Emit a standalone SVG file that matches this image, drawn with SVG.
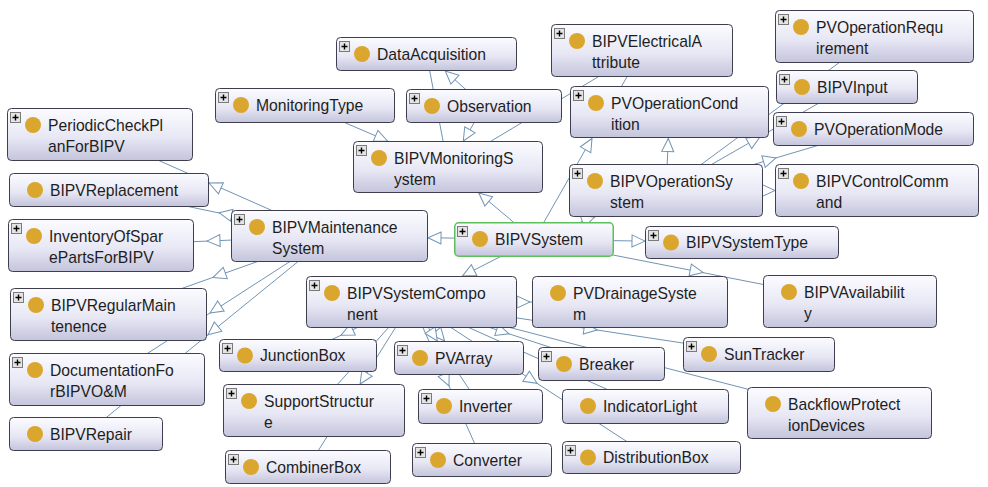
<svg xmlns="http://www.w3.org/2000/svg" width="988" height="487" viewBox="0 0 988 487">
<defs>
<linearGradient id="g" x1="0" y1="0" x2="0" y2="1">
<stop offset="0" stop-color="#fbfbff"/>
<stop offset="0.55" stop-color="#e8e8f5"/>
<stop offset="1" stop-color="#c4c4dc"/>
</linearGradient>
<path id="ah" d="M0,0 L-13,-6 L-13,6 Z"/>
<g id="plus"><rect x="0.5" y="0.5" width="10" height="10" fill="#e4e4e4" stroke="#7a7a7a"/><path d="M2.5,5.5 H8.5 M5.5,2.5 V8.5" stroke="#000" stroke-width="1.4"/></g>
</defs>
<style>
.n rect.b{fill:url(#g);stroke:#3e3e4e;stroke-width:1}
.n.focus rect.b{stroke:#5cbf5c;stroke-width:1.5}
.n circle{fill:#daa62e}
.n text{font-family:"Liberation Sans",Arial,sans-serif;font-size:15.7px;fill:#1e1e1e}
#edges line{stroke:#7194b4;stroke-width:1}
#edges use{fill:#fff;stroke:#7194b4;stroke-width:1}
</style>
<rect width="988" height="487" fill="#fff"/>
<g id="edges">
<line x1="534" y1="239.5" x2="329.5" y2="236"/>
<line x1="534" y1="239.5" x2="448" y2="167"/>
<line x1="534" y1="239.5" x2="742" y2="242.5"/>
<line x1="534" y1="239.5" x2="411.5" y2="302"/>
<line x1="534" y1="239.5" x2="666" y2="190.5"/>
<line x1="534" y1="239.5" x2="850" y2="301.5"/>
<line x1="534" y1="239.5" x2="642" y2="50.5"/>
<line x1="329.5" y1="236" x2="100" y2="134.5"/>
<line x1="329.5" y1="236" x2="109" y2="190"/>
<line x1="329.5" y1="236" x2="101" y2="245.5"/>
<line x1="329.5" y1="236" x2="108.5" y2="314.5"/>
<line x1="329.5" y1="236" x2="107" y2="379.5"/>
<line x1="329.5" y1="236" x2="86" y2="434"/>
<line x1="305" y1="105.5" x2="448" y2="167"/>
<line x1="426.5" y1="54" x2="448" y2="167"/>
<line x1="484" y1="106" x2="426.5" y2="54"/>
<line x1="484" y1="106" x2="448" y2="167"/>
<line x1="642" y1="50.5" x2="448" y2="167"/>
<line x1="666" y1="190.5" x2="669.5" y2="112"/>
<line x1="666" y1="190.5" x2="874.5" y2="36.5"/>
<line x1="666" y1="190.5" x2="847" y2="87"/>
<line x1="666" y1="190.5" x2="873.5" y2="129"/>
<line x1="666" y1="190.5" x2="877" y2="190.5"/>
<line x1="411.5" y1="302" x2="630" y2="302"/>
<line x1="411.5" y1="302" x2="298" y2="355.5"/>
<line x1="411.5" y1="302" x2="314" y2="410.5"/>
<line x1="411.5" y1="302" x2="308" y2="467"/>
<line x1="411.5" y1="302" x2="459" y2="358"/>
<line x1="411.5" y1="302" x2="480.5" y2="406.5"/>
<line x1="411.5" y1="302" x2="482" y2="460"/>
<line x1="411.5" y1="302" x2="601.5" y2="364"/>
<line x1="411.5" y1="302" x2="645.5" y2="406.5"/>
<line x1="411.5" y1="302" x2="651.5" y2="457.5"/>
<line x1="411.5" y1="302" x2="759" y2="354.5"/>
<line x1="411.5" y1="302" x2="839.5" y2="413"/>
<use href="#ah" transform="translate(428,237.7) rotate(181)"/>
<use href="#ah" transform="translate(478.8,193) rotate(220.1)"/>
<use href="#ah" transform="translate(645,241.1) rotate(0.8)"/>
<use href="#ah" transform="translate(462.5,276) rotate(153)"/>
<use href="#ah" transform="translate(594.6,217) rotate(-20.4)"/>
<use href="#ah" transform="translate(703,272.4) rotate(11)"/>
<use href="#ah" transform="translate(592,138.5) rotate(-60.3)"/>
<use href="#ah" transform="translate(209,183) rotate(203.9)"/>
<use href="#ah" transform="translate(219,212.7) rotate(191.8)"/>
<use href="#ah" transform="translate(207,241.1) rotate(177.6)"/>
<use href="#ah" transform="translate(213,277.4) rotate(160.4)"/>
<use href="#ah" transform="translate(210,313.1) rotate(147.2)"/>
<use href="#ah" transform="translate(208,334.8) rotate(140.9)"/>
<use href="#ah" transform="translate(387.5,141) rotate(23.3)"/>
<use href="#ah" transform="translate(445.3,71) rotate(222.1)"/>
<use href="#ah" transform="translate(463.3,141) rotate(120.5)"/>
<use href="#ah" transform="translate(668.3,138.5) rotate(-87.4)"/>
<use href="#ah" transform="translate(760,136.8) rotate(-29.8)"/>
<use href="#ah" transform="translate(776,157.9) rotate(-16.5)"/>
<use href="#ah" transform="translate(775,190.5) rotate(0)"/>
<use href="#ah" transform="translate(530,302) rotate(0)"/>
<use href="#ah" transform="translate(341,335.2) rotate(154.8)"/>
<use href="#ah" transform="translate(360.1,384) rotate(122.1)"/>
<use href="#ah" transform="translate(444.6,341) rotate(49.7)"/>
<use href="#ah" transform="translate(437.3,341) rotate(56.6)"/>
<use href="#ah" transform="translate(449,386) rotate(66)"/>
<use href="#ah" transform="translate(509,333.8) rotate(18.1)"/>
<use href="#ah" transform="translate(537,383.3) rotate(32.9)"/>
<use href="#ah" transform="translate(597,330) rotate(8.6)"/>
</g>
<g id="n-DataAcquisition" class="n" transform="translate(336,37)"><rect class="b" x="0.5" y="0.5" width="180" height="33" rx="4"/><use href="#plus" x="3" y="4"/><circle cx="26" cy="17" r="8"/><text x="41" y="22.5">DataAcquisition</text></g>
<g id="n-BIPVElectricalAttribute" class="n" transform="translate(551,24)"><rect class="b" x="0.5" y="0.5" width="181" height="52" rx="4"/><use href="#plus" x="3" y="4"/><circle cx="26" cy="17" r="8"/><text x="41" y="22.5">BIPVElectricalA<tspan x="41" y="44">ttribute</tspan></text></g>
<g id="n-PVOperationRequirement" class="n" transform="translate(775,10)"><rect class="b" x="0.5" y="0.5" width="198" height="52" rx="4"/><use href="#plus" x="3" y="4"/><circle cx="26" cy="17" r="8"/><text x="41" y="22.5">PVOperationRequ<tspan x="41" y="44">irement</tspan></text></g>
<g id="n-MonitoringType" class="n" transform="translate(215,88)"><rect class="b" x="0.5" y="0.5" width="179" height="34" rx="4"/><use href="#plus" x="3" y="4"/><circle cx="26" cy="17" r="8"/><text x="41" y="22.5">MonitoringType</text></g>
<g id="n-Observation" class="n" transform="translate(406,89)"><rect class="b" x="0.5" y="0.5" width="155" height="33" rx="4"/><use href="#plus" x="3" y="4"/><circle cx="26" cy="17" r="8"/><text x="41" y="22.5">Observation</text></g>
<g id="n-BIPVInput" class="n" transform="translate(776,70)"><rect class="b" x="0.5" y="0.5" width="141" height="33" rx="4"/><use href="#plus" x="3" y="4"/><circle cx="26" cy="17" r="8"/><text x="41" y="22.5">BIPVInput</text></g>
<g id="n-PVOperationCondition" class="n" transform="translate(570,86)"><rect class="b" x="0.5" y="0.5" width="198" height="51" rx="4"/><use href="#plus" x="3" y="4"/><circle cx="26" cy="17" r="8"/><text x="41" y="22.5">PVOperationCond<tspan x="41" y="44">ition</tspan></text></g>
<g id="n-PVOperationMode" class="n" transform="translate(773,112)"><rect class="b" x="0.5" y="0.5" width="200" height="33" rx="4"/><use href="#plus" x="3" y="4"/><circle cx="26" cy="17" r="8"/><text x="41" y="22.5">PVOperationMode</text></g>
<g id="n-PeriodicCheckPlanForBIPV" class="n" transform="translate(7,108)"><rect class="b" x="0.5" y="0.5" width="185" height="52" rx="4"/><use href="#plus" x="3" y="4"/><circle cx="26" cy="17" r="8"/><text x="41" y="22.5">PeriodicCheckPl<tspan x="41" y="44">anForBIPV</tspan></text></g>
<g id="n-BIPVMonitoringSystem" class="n" transform="translate(353,141)"><rect class="b" x="0.5" y="0.5" width="189" height="51" rx="4"/><use href="#plus" x="3" y="4"/><circle cx="26" cy="17" r="8"/><text x="41" y="22.5">BIPVMonitoringS<tspan x="41" y="44">ystem</tspan></text></g>
<g id="n-BIPVReplacement" class="n" transform="translate(9,173)"><rect class="b" x="0.5" y="0.5" width="199" height="33" rx="4"/><circle cx="26" cy="17" r="8"/><text x="41" y="22.5">BIPVReplacement</text></g>
<g id="n-BIPVOperationSystem" class="n" transform="translate(569,164)"><rect class="b" x="0.5" y="0.5" width="193" height="52" rx="4"/><use href="#plus" x="3" y="4"/><circle cx="26" cy="17" r="8"/><text x="41" y="22.5">BIPVOperationSy<tspan x="41" y="44">stem</tspan></text></g>
<g id="n-BIPVControlCommand" class="n" transform="translate(775,164)"><rect class="b" x="0.5" y="0.5" width="203" height="52" rx="4"/><use href="#plus" x="3" y="4"/><circle cx="26" cy="17" r="8"/><text x="41" y="22.5">BIPVControlComm<tspan x="41" y="44">and</tspan></text></g>
<g id="n-BIPVMaintenanceSystem" class="n" transform="translate(231,210)"><rect class="b" x="0.5" y="0.5" width="196" height="51" rx="4"/><use href="#plus" x="3" y="4"/><circle cx="26" cy="17" r="8"/><text x="41" y="22.5">BIPVMaintenance<tspan x="41" y="44">System</tspan></text></g>
<g id="n-InventoryOfSparePartsForBIPV" class="n" transform="translate(8,219)"><rect class="b" x="0.5" y="0.5" width="185" height="52" rx="4"/><use href="#plus" x="3" y="4"/><circle cx="26" cy="17" r="8"/><text x="41" y="22.5">InventoryOfSpar<tspan x="41" y="44">ePartsForBIPV</tspan></text></g>
<g id="n-BIPVSystem" class="n focus" transform="translate(454,222)"><rect class="b" x="0.75" y="0.75" width="158.5" height="33.5" rx="4"/><use href="#plus" x="3" y="4"/><circle cx="26" cy="17" r="8"/><text x="41" y="22.5">BIPVSystem</text></g>
<g id="n-BIPVSystemType" class="n" transform="translate(645,226)"><rect class="b" x="0.5" y="0.5" width="193" height="32" rx="4"/><use href="#plus" x="3" y="4"/><circle cx="26" cy="16.5" r="8"/><text x="41" y="22">BIPVSystemType</text></g>
<g id="n-BIPVSystemComponent" class="n" transform="translate(306,276)"><rect class="b" x="0.5" y="0.5" width="210" height="51" rx="4"/><use href="#plus" x="3" y="4"/><circle cx="26" cy="17" r="8"/><text x="41" y="22.5">BIPVSystemCompo<tspan x="41" y="44">nent</tspan></text></g>
<g id="n-PVDrainageSystem" class="n" transform="translate(532,276)"><rect class="b" x="0.5" y="0.5" width="195" height="51" rx="4"/><circle cx="26" cy="17" r="8"/><text x="41" y="22.5">PVDrainageSyste<tspan x="41" y="44">m</tspan></text></g>
<g id="n-BIPVAvailability" class="n" transform="translate(763,275)"><rect class="b" x="0.5" y="0.5" width="173" height="52" rx="4"/><circle cx="26" cy="17" r="8"/><text x="41" y="22.5">BIPVAvailabilit<tspan x="41" y="44">y</tspan></text></g>
<g id="n-BIPVRegularMaintenence" class="n" transform="translate(10,288)"><rect class="b" x="0.5" y="0.5" width="196" height="52" rx="4"/><use href="#plus" x="3" y="4"/><circle cx="26" cy="17" r="8"/><text x="41" y="22.5">BIPVRegularMain<tspan x="41" y="44">tenence</tspan></text></g>
<g id="n-JunctionBox" class="n" transform="translate(219,339)"><rect class="b" x="0.5" y="0.5" width="157" height="32" rx="4"/><use href="#plus" x="3" y="4"/><circle cx="26" cy="16.5" r="8"/><text x="41" y="22">JunctionBox</text></g>
<g id="n-PVArray" class="n" transform="translate(394,341)"><rect class="b" x="0.5" y="0.5" width="129" height="33" rx="4"/><use href="#plus" x="3" y="4"/><circle cx="26" cy="17" r="8"/><text x="41" y="22.5">PVArray</text></g>
<g id="n-Breaker" class="n" transform="translate(538,347)"><rect class="b" x="0.5" y="0.5" width="126" height="33" rx="4"/><use href="#plus" x="3" y="4"/><circle cx="26" cy="17" r="8"/><text x="41" y="22.5">Breaker</text></g>
<g id="n-SunTracker" class="n" transform="translate(683,337)"><rect class="b" x="0.5" y="0.5" width="151" height="34" rx="4"/><use href="#plus" x="3" y="4"/><circle cx="26" cy="17" r="8"/><text x="41" y="22.5">SunTracker</text></g>
<g id="n-DocumentationForBIPVOM" class="n" transform="translate(9,353)"><rect class="b" x="0.5" y="0.5" width="195" height="52" rx="4"/><use href="#plus" x="3" y="4"/><circle cx="26" cy="17" r="8"/><text x="41" y="22.5">DocumentationFo<tspan x="41" y="44">rBIPVO&amp;M</tspan></text></g>
<g id="n-SupportStructure" class="n" transform="translate(223,384)"><rect class="b" x="0.5" y="0.5" width="181" height="52" rx="4"/><use href="#plus" x="3" y="4"/><circle cx="26" cy="17" r="8"/><text x="41" y="22.5">SupportStructur<tspan x="41" y="44">e</tspan></text></g>
<g id="n-Inverter" class="n" transform="translate(418,389)"><rect class="b" x="0.5" y="0.5" width="124" height="34" rx="4"/><use href="#plus" x="3" y="4"/><circle cx="26" cy="17" r="8"/><text x="41" y="22.5">Inverter</text></g>
<g id="n-IndicatorLight" class="n" transform="translate(562,389)"><rect class="b" x="0.5" y="0.5" width="166" height="34" rx="4"/><circle cx="26" cy="17" r="8"/><text x="41" y="22.5">IndicatorLight</text></g>
<g id="n-BackflowProtectionDevices" class="n" transform="translate(747,387)"><rect class="b" x="0.5" y="0.5" width="184" height="51" rx="4"/><circle cx="26" cy="17" r="8"/><text x="41" y="22.5">BackflowProtect<tspan x="41" y="44">ionDevices</tspan></text></g>
<g id="n-BIPVRepair" class="n" transform="translate(9,417)"><rect class="b" x="0.5" y="0.5" width="153" height="33" rx="4"/><circle cx="26" cy="17" r="8"/><text x="41" y="22.5">BIPVRepair</text></g>
<g id="n-CombinerBox" class="n" transform="translate(225,450)"><rect class="b" x="0.5" y="0.5" width="165" height="33" rx="4"/><use href="#plus" x="3" y="4"/><circle cx="26" cy="17" r="8"/><text x="41" y="22.5">CombinerBox</text></g>
<g id="n-Converter" class="n" transform="translate(412,443)"><rect class="b" x="0.5" y="0.5" width="139" height="33" rx="4"/><use href="#plus" x="3" y="4"/><circle cx="26" cy="17" r="8"/><text x="41" y="22.5">Converter</text></g>
<g id="n-DistributionBox" class="n" transform="translate(562,441)"><rect class="b" x="0.5" y="0.5" width="178" height="32" rx="4"/><use href="#plus" x="3" y="4"/><circle cx="26" cy="16.5" r="8"/><text x="41" y="22">DistributionBox</text></g>
</svg>
